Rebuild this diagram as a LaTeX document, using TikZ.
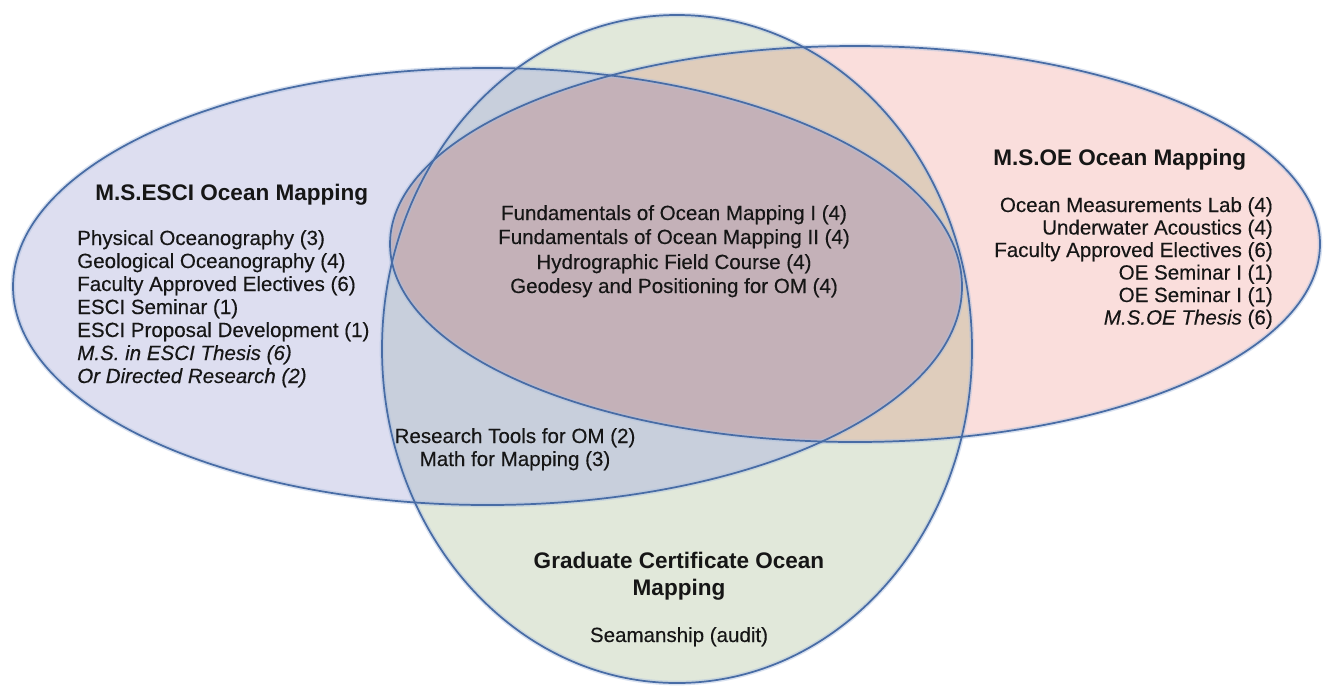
\documentclass[tikz,border=0pt]{standalone}
\usepackage{fontspec}
\setmainfont{Liberation Sans}
\newfontfamily\itemfont[FakeBold=0.3]{Liberation Sans}
\definecolor{lav}{RGB}{221,222,240}
\definecolor{lgreen}{RGB}{225,232,218}
\definecolor{lpink}{RGB}{250,222,220}
\definecolor{bgmix}{RGB}{200,207,220}
\definecolor{pgmix}{RGB}{223,205,188}
\definecolor{bpmix}{RGB}{196,177,184}
\definecolor{edge}{RGB}{72,108,165}
\definecolor{glow}{RGB}{170,190,222}
\definecolor{txt}{RGB}{22,22,22}
\tikzset{
  item/.style={font=\itemfont\fontsize{15.4}{17}\selectfont, text=txt, inner sep=0pt},
  ititem/.style={font=\itemfont\fontsize{15.4}{17}\selectfont\itshape, text=txt, inner sep=0pt},
  head/.style={font=\fontsize{16.9}{20}\selectfont\bfseries, text=txt, inner sep=0pt},
  outline/.style={draw=edge, line width=1.3pt},
  halo/.style={draw=glow, line width=3.5pt, opacity=0.45},
}
\def\blueE{(487.5,286.5) ellipse [x radius=474.5, y radius=218.5]}
\def\greenE{(677,349) ellipse [x radius=295, y radius=334]}
\def\pinkE{(855,244) ellipse [x radius=465, y radius=198]}
\begin{document}
\begin{tikzpicture}[x=0.75pt,y=-0.75pt]
\useasboundingbox (0,0) rectangle (1326,687);
\fill[white] (0,0) rectangle (1326,687);
% region fills
\fill[lav] \blueE;
\fill[lgreen] \greenE;
\fill[lpink] \pinkE;
\begin{scope}
  \clip \blueE;
  \fill[bgmix] \greenE;
\end{scope}
\begin{scope}
  \clip \greenE;
  \fill[pgmix] \pinkE;
\end{scope}
\begin{scope}
  \clip \blueE;
  \fill[bpmix] \pinkE;
\end{scope}
% outlines
\draw[halo] \blueE;
\draw[halo] \greenE;
\draw[halo] \pinkE;
\draw[outline] \blueE;
\draw[outline] \greenE;
\draw[outline] \pinkE;

% M.S.ESCI block
\node[head, anchor=base west] (esciT) at (95,200) {M.S.ESCI Ocean Mapping};
\node[item, anchor=base west] (e1) at (77,245) {Physical Oceanography (3)};
\node[item, anchor=base west] (e2) at (77,268) {Geological Oceanography (4)};
\node[item, anchor=base west] (e3) at (77,291) {Faculty Approved Electives (6)};
\node[item, anchor=base west] (e4) at (77,314) {ESCI Seminar (1)};
\node[item, anchor=base west] (e5) at (77,337) {ESCI Proposal Development (1)};
\node[ititem, anchor=base west] (e6) at (77,360) {M.S. in ESCI Thesis (6)};
\node[ititem, anchor=base west] (e7) at (77,383) {Or Directed Research (2)};

% core block
\node[item, anchor=base] (c1) at (674,220) {Fundamentals of Ocean Mapping I (4)};
\node[item, anchor=base] (c2) at (674,244) {Fundamentals of Ocean Mapping II (4)};
\node[item, anchor=base] (c3) at (674,269) {Hydrographic Field Course (4)};
\node[item, anchor=base] (c4) at (674,293) {Geodesy and Positioning for OM (4)};

% M.S.OE block
\node[head, anchor=base west] (oeT) at (993,165) {M.S.OE Ocean Mapping};
\node[item, anchor=base east] (o1) at (1273,212) {Ocean Measurements Lab (4)};
\node[item, anchor=base east] (o2) at (1273,234.5) {Underwater Acoustics (4)};
\node[item, anchor=base east] (o3) at (1273,257) {Faculty Approved Electives (6)};
\node[item, anchor=base east] (o4) at (1273,279.5) {OE Seminar I (1)};
\node[item, anchor=base east] (o5) at (1273,302) {OE Seminar I (1)};
\node[item, anchor=base east] (o6) at (1273,324.5) {\textit{M.S.OE Thesis} (6)};

% ESCI + certificate
\node[item, anchor=base] (r1) at (515,443) {Research Tools for OM (2)};
\node[item, anchor=base] (r2) at (515,466) {Math for Mapping (3)};

% certificate block
\node[head, anchor=base] (gT1) at (679,568) {Graduate Certificate Ocean};
\node[head, anchor=base] (gT2) at (679,595) {Mapping};
\node[item, anchor=base] (g1) at (679,642) {Seamanship (audit)};
\end{tikzpicture}
\end{document}
